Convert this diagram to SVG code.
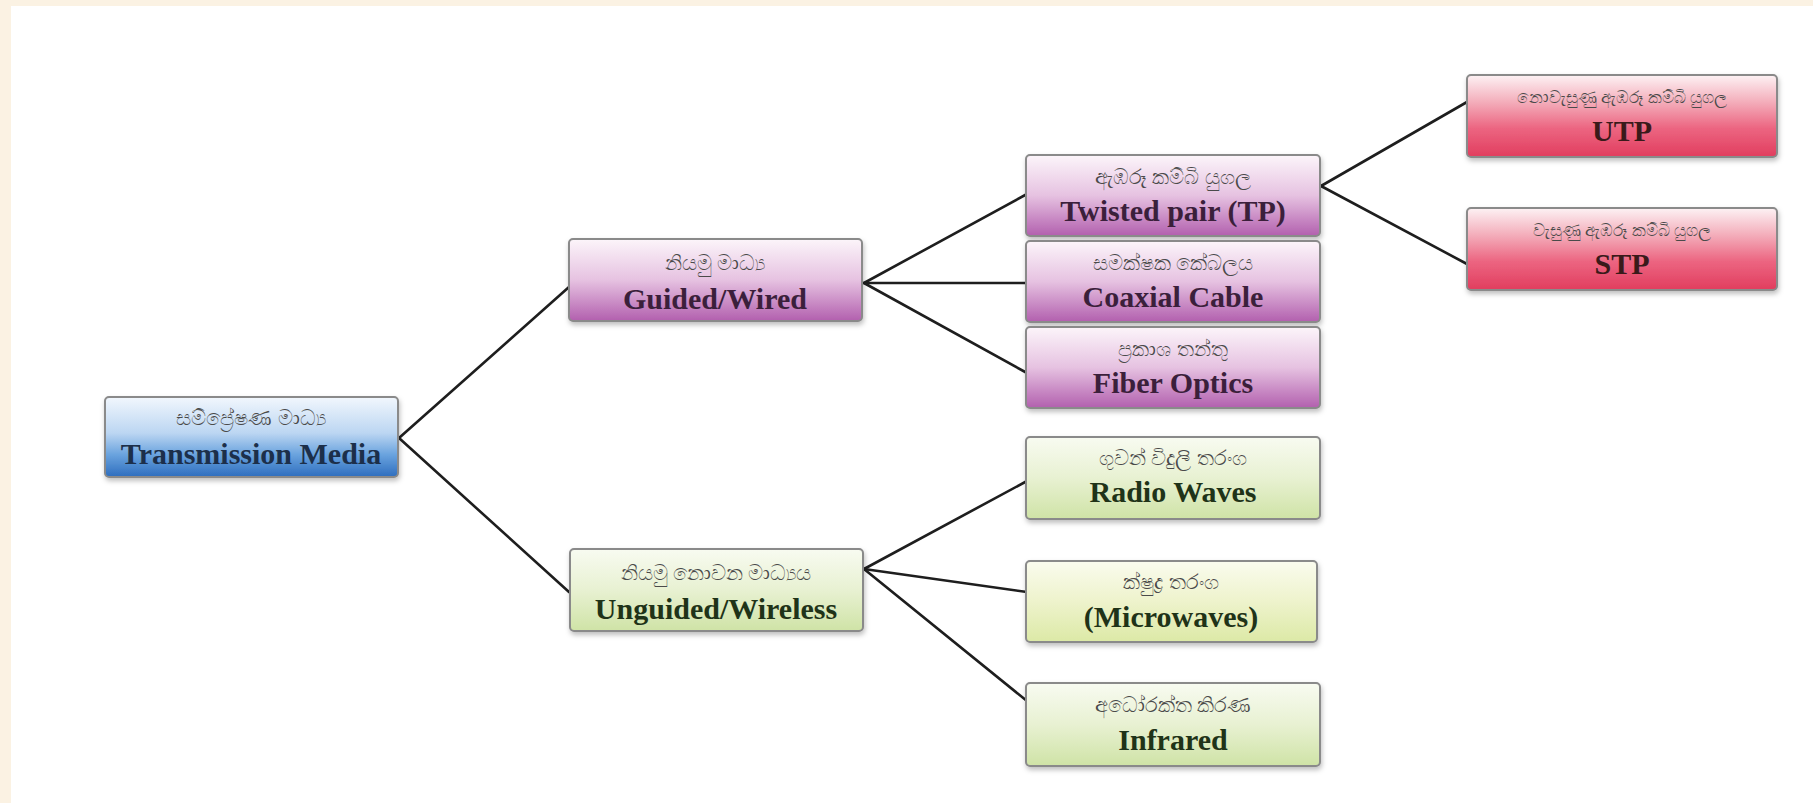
<svg xmlns="http://www.w3.org/2000/svg" width="1813" height="803" viewBox="0 0 1813 803">
<style>
.box{stroke:#8a8a8a;stroke-width:2;filter:url(#sh)}
.si{font-family:"Noto Sans","DejaVu Sans",sans-serif;font-size:21px;fill:#4a4a4a;text-anchor:middle}
.si-s{font-size:17px}
.en{font-family:"Liberation Serif",serif;font-weight:bold;font-size:30px;text-anchor:middle}
.blue .en{fill:#1c2f4a}
.purple .en{fill:#3b1f3b}
.red .en{fill:#3a1a1a}
.green .en{fill:#1f3318}
.conn line{stroke:#1e1e1e;stroke-width:2.6;stroke-linecap:round}
</style>
<defs>
<filter id="sh" x="-10%" y="-20%" width="120%" height="150%">
<feDropShadow dx="1" dy="3" stdDeviation="2.5" flood-color="#000" flood-opacity="0.25"/>
</filter>
<linearGradient id="gBlue" x1="0" y1="0" x2="0" y2="1">
<stop offset="0" stop-color="#f2f7fd"/>
<stop offset="0.45" stop-color="#bcd6f2"/>
<stop offset="0.72" stop-color="#6aa3de"/>
<stop offset="1" stop-color="#2d6dbe"/>
</linearGradient>
<linearGradient id="gPurple" x1="0" y1="0" x2="0" y2="1">
<stop offset="0" stop-color="#fcf5fa"/>
<stop offset="0.5" stop-color="#e6c2e1"/>
<stop offset="1" stop-color="#b25fae"/>
</linearGradient>
<linearGradient id="gRed" x1="0" y1="0" x2="0" y2="1">
<stop offset="0" stop-color="#fdf2f4"/>
<stop offset="0.35" stop-color="#f3a9b7"/>
<stop offset="0.65" stop-color="#ec6581"/>
<stop offset="1" stop-color="#e13d5e"/>
</linearGradient>
<linearGradient id="gGreen" x1="0" y1="0" x2="0" y2="1">
<stop offset="0" stop-color="#f8fbf1"/>
<stop offset="0.5" stop-color="#e8f1d2"/>
<stop offset="1" stop-color="#cfe3a6"/>
</linearGradient>
<linearGradient id="gYellow" x1="0" y1="0" x2="0" y2="1">
<stop offset="0" stop-color="#fafbee"/>
<stop offset="0.5" stop-color="#eef3cc"/>
<stop offset="1" stop-color="#dce9a6"/>
</linearGradient>
</defs>
<rect x="0" y="0" width="1813" height="803" fill="#ffffff"/>
<rect x="0" y="0" width="1813" height="6" fill="#fbf2e3"/>
<rect x="0" y="0" width="11" height="803" fill="#fbf2e3"/>

<g id="connectors" class="conn">
<line x1="399" y1="438" x2="569" y2="287"/>
<line x1="399" y1="438" x2="569" y2="592"/>
<line x1="864" y1="283" x2="1027" y2="194"/>
<line x1="864" y1="283" x2="1027" y2="283"/>
<line x1="864" y1="283" x2="1027" y2="373"/>
<line x1="864" y1="569" x2="1027" y2="481"/>
<line x1="864" y1="569" x2="1027" y2="592"/>
<line x1="864" y1="569" x2="1027" y2="701"/>
<line x1="1321" y1="186" x2="1467" y2="102"/>
<line x1="1321" y1="186" x2="1467" y2="264"/>
</g>

<g id="transmission-media" class="blue">
<rect class="box" x="105" y="397" width="293" height="80" rx="4" fill="url(#gBlue)"/>
<text class="si" x="251" y="425">සම්ප්‍රේෂණ මාධ්‍ය</text>
<text class="en" x="251" y="464">Transmission Media</text>
</g>

<g id="guided" class="purple">
<rect class="box" x="569" y="239" width="293" height="82" rx="4" fill="url(#gPurple)"/>
<text class="si" x="715" y="270">නියමු මාධ්‍ය</text>
<text class="en" x="715" y="309">Guided/Wired</text>
</g>

<g id="unguided" class="green">
<rect class="box" x="570" y="549" width="293" height="82" rx="4" fill="url(#gGreen)"/>
<text class="si" x="716" y="580">නියමු නොවන මාධ්‍යය</text>
<text class="en" x="716" y="619">Unguided/Wireless</text>
</g>

<g id="twisted-pair" class="purple">
<rect class="box" x="1026" y="155" width="294" height="81" rx="4" fill="url(#gPurple)"/>
<text class="si" x="1173" y="184">ඇඹරූ කම්බි යුගල</text>
<text class="en" x="1173" y="221">Twisted pair (TP)</text>
</g>

<g id="coaxial" class="purple">
<rect class="box" x="1026" y="241" width="294" height="81" rx="4" fill="url(#gPurple)"/>
<text class="si" x="1173" y="270">සමක්ෂක කේබලය</text>
<text class="en" x="1173" y="307">Coaxial Cable</text>
</g>

<g id="fiber" class="purple">
<rect class="box" x="1026" y="327" width="294" height="81" rx="4" fill="url(#gPurple)"/>
<text class="si" x="1173" y="356">ප්‍රකාශ තන්තු</text>
<text class="en" x="1173" y="393">Fiber Optics</text>
</g>

<g id="utp" class="red">
<rect class="box" x="1467" y="75" width="310" height="82" rx="4" fill="url(#gRed)"/>
<text class="si si-s" x="1622" y="103">නොවැසුණු ඇඹරූ කම්බි යුගල</text>
<text class="en" x="1622" y="141">UTP</text>
</g>

<g id="stp" class="red">
<rect class="box" x="1467" y="208" width="310" height="82" rx="4" fill="url(#gRed)"/>
<text class="si si-s" x="1622" y="236">වැසුණු ඇඹරූ කම්බි යුගල</text>
<text class="en" x="1622" y="274">STP</text>
</g>

<g id="radio" class="green">
<rect class="box" x="1026" y="437" width="294" height="82" rx="4" fill="url(#gGreen)"/>
<text class="si" x="1173" y="465">ගුවන් විදුලි තරංග</text>
<text class="en" x="1173" y="502">Radio Waves</text>
</g>

<g id="microwaves" class="green">
<rect class="box" x="1026" y="561" width="291" height="81" rx="4" fill="url(#gYellow)"/>
<text class="si" x="1171" y="589">ක්ෂුද්‍ර තරංග</text>
<text class="en" x="1171" y="627">(Microwaves)</text>
</g>

<g id="infrared" class="green">
<rect class="box" x="1026" y="683" width="294" height="83" rx="4" fill="url(#gGreen)"/>
<text class="si" x="1173" y="712">අධෝරක්ත කිරණ</text>
<text class="en" x="1173" y="750">Infrared</text>
</g>
</svg>
